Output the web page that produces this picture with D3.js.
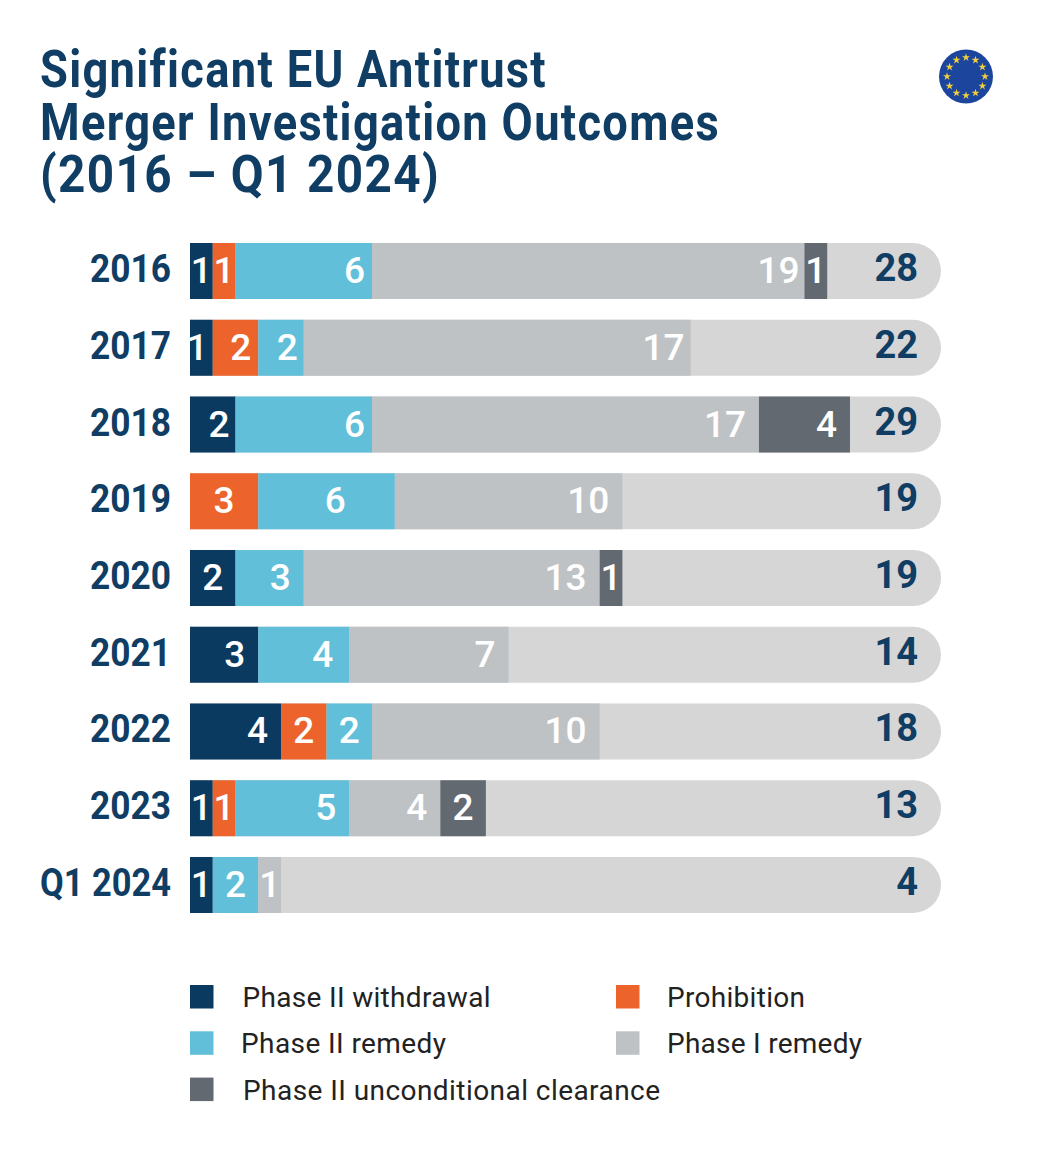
<!DOCTYPE html>
<html><head><meta charset="utf-8">
<script src="https://cdn.jsdelivr.net/npm/d3@7"></script>
<style>html,body{margin:0;padding:0;background:#fff}svg{display:block}</style>
</head><body><svg id="c" width="1053" height="1150"></svg>
<script>
const titleLines=["Significant EU Antitrust","Merger Investigation Outcomes","(2016 – Q1 2024)"];
const titleWidths=[507,680,400];
const years=["2016","2017","2018","2019","2020","2021","2022","2023","Q1 2024"];
const withdrawal=[1,1,2,0,2,3,4,1,1];
const prohibition=[1,2,0,3,0,0,2,1,0];
const remedy2=[6,2,6,6,3,4,2,5,2];
const remedy1=[19,17,17,10,13,7,10,4,1];
const unconditional=[1,0,4,0,1,0,0,2,0];
const totals=[28,22,29,19,19,14,18,13,4];
const seriesNames=["Phase II withdrawal","Prohibition","Phase II remedy","Phase I remedy","Phase II unconditional clearance"];
const seriesColors=["#0b3a60","#ec642c","#62bfda","#bfc2c4","#636971"];
const legendWidths=[248,138,205,195,417];
const legendOffsets=[52.5,51,51,51,53];
// labels that sit away from the usual place: "year|series index" -> inset from the segment's right edge
const labelInsets={"2016|2":7,"2018|2":7,"2017|0":5,"2017|1":7,"2017|2":6,"2018|0":6,"2016|3":5,"2017|3":6,"2019|2":49,"2021|2":16};
const trackColor="#d6d6d6", ink="#0f3d64";
const seriesValues=[withdrawal,prohibition,remedy2,remedy1,unconditional];
const svg=d3.select("#c");
const x=d3.scaleLinear().domain([0,33]).range([190,941]);
const y=d3.scaleBand().domain(years).range([243,913]).paddingInner(0.27);
const sans="Roboto, sans-serif";

svg.append("g").selectAll("text").data(titleLines).join("text")
 .attr("x",40).attr("y",(d,i)=>87+i*52.5)
 .attr("font-family",sans).attr("font-weight",700).attr("letter-spacing",1.5)
 .attr("font-size",52).attr("textLength",(d,i)=>titleWidths[i]).attr("lengthAdjust","spacingAndGlyphs")
 .attr("fill",ink).text(d=>d);

// flag
const flag=svg.append("g").attr("transform","translate(966,76.5)");
flag.append("circle").attr("r",27).attr("fill","#1c469d");
const star=d3.symbol().type(d3.symbolStar).size(20);
d3.range(12).forEach(i=>{const a=i/12*2*Math.PI;
 flag.append("path").attr("d",star).attr("fill","#f2cf3c")
  .attr("transform",`translate(${19*Math.sin(a)},${-19*Math.cos(a)})`);});

// tracks
const h=y.bandwidth(), r=h/2;
svg.append("g").selectAll("path").data(years).join("path").attr("fill",trackColor)
 .attr("d",d=>{const p=d3.path(),t=y(d),L=x(0),R=x(33);
   p.moveTo(L,t);p.lineTo(R-r,t);p.arc(R-r,t+r,r,-Math.PI/2,Math.PI/2);p.lineTo(L,t+h);p.closePath();return p.toString();});

// stacks
const rows=years.map((yr,i)=>{const o={yr};seriesNames.forEach((n,k)=>o[n]=seriesValues[k][i]);return o;});
const stack=d3.stack().keys(seriesNames)(rows);
const segs=stack.flatMap((s,k)=>s.map(d=>({k,yr:d.data.yr,a:d[0],b:d[1]}))).filter(d=>d.b>d.a);
svg.append("g").selectAll("rect").data(segs).join("rect")
 .attr("x",d=>x(d.a)).attr("y",d=>y(d.yr)).attr("width",d=>x(d.b)-x(d.a)).attr("height",h)
 .attr("fill",d=>seriesColors[d.k]);
const inset=d=>labelInsets[d.yr+"|"+d.k];
const centred=d=>inset(d)===undefined && ((d.b-d.a)<=2 || (d.yr==="2019"&&d.k===1));
svg.append("g").selectAll("text").data(segs).join("text")
 .attr("x",d=>centred(d)?(x(d.a)+x(d.b))/2:x(d.b)-(inset(d)??13)).attr("y",d=>y(d.yr)+h/2+12)
 .attr("text-anchor",d=>centred(d)?"middle":"end").attr("font-family",sans).attr("font-weight",500).attr("font-size",37)
 .attr("fill","#fff").text(d=>d.b-d.a);

// category labels and totals
svg.append("g").selectAll("text").data(years).join("text")
 .attr("x",d=>d.length>4?40:90).attr("y",d=>y(d)+h/2+11)
 .attr("textLength",d=>d.length>4?131:81).attr("lengthAdjust","spacingAndGlyphs")
 .attr("font-family",sans).attr("font-weight",700).attr("font-size",38).attr("fill",ink).text(d=>d);
svg.append("g").selectAll("text").data(totals).join("text")
 .attr("x",918).attr("y",(d,i)=>y(years[i])+h/2+10).attr("text-anchor","end")
 .attr("font-family",sans).attr("font-weight",700).attr("font-size",38).attr("fill",ink).text(d=>d);

// legend
const legendCols=[0,1,0,1,0], legendRows=[0,0,1,1,2];
const lg=svg.append("g").selectAll("g").data(seriesNames).join("g")
 .attr("transform",(d,i)=>`translate(${legendCols[i]?616:190},${985+legendRows[i]*46.3})`);
lg.append("rect").attr("width",23.5).attr("height",23.5).attr("fill",(d,i)=>seriesColors[i]);
lg.append("text").attr("x",(d,i)=>legendOffsets[i]).attr("y",22)
 .attr("font-family",sans).attr("font-size",28).attr("textLength",(d,i)=>legendWidths[i]).attr("lengthAdjust","spacing")
 .attr("fill","#222").text(d=>d);
</script></body></html>
